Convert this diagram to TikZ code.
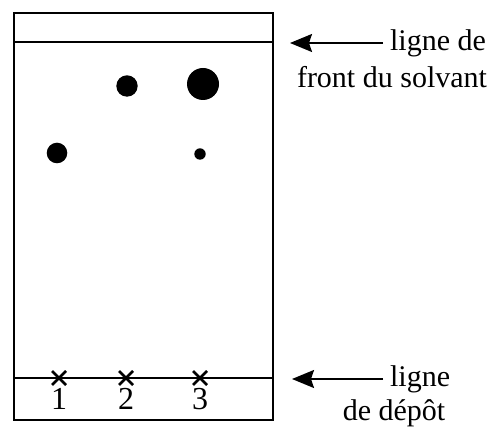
\documentclass[tikz,border=0pt]{standalone}
\usepackage{fontspec}
\setmainfont{Liberation Serif}
\usetikzlibrary{arrows.meta}

\tikzset{
  plate/.style={line width=1pt},
  spot/.style={fill=black},
  lbl/.style={font=\fontsize{15}{17}\selectfont},
  pointer/.style={-{Stealth[length=11pt,width=9pt,inset=1.5pt]}, line width=0.9pt}
}

\begin{document}
\begin{tikzpicture}[x=0.5pt,y=-0.5pt]
\useasboundingbox (0,0) rectangle (492,432);

% Plate
\draw[plate] (14,13) rectangle (273,420);
\draw[plate] (14,42) -- (273,42);   % solvent front
\draw[plate] (14,378) -- (273,378); % deposit line

% Spots
\fill[spot] (57,153) circle (10.3);
\fill[spot] (127,86) circle (10.7);
\fill[spot] (203,84) circle (16);
\fill[spot] (200,154) circle (5.7);

% Deposit marks with their numbers
\foreach \i/\x in {1/59, 2/126, 3/200} {
    \draw[line width=1.3pt] (\x-7,371) -- (\x+7,385) (\x-7,385) -- (\x+7,371);
    \node[lbl, font=\fontsize{16}{18}\selectfont, inner sep=0pt] (num\i) at (\x,399) {\i};
}

% Labels with arrows
\coordinate (fronttip) at (290,43);
\node[lbl, anchor=west] (frontlbl) at (383,43) {ligne de};
\node[lbl] (frontlbl2) at (392,77) {front du solvant};
\draw[pointer] (frontlbl.west) -- (fronttip);

\coordinate (depottip) at (292,379);
\node[lbl, anchor=west] (depotlbl) at (383,379) {ligne};
\node[lbl] (depotlbl2) at (394,413) {de dépôt};
\draw[pointer] (depotlbl.west) -- (depottip);

\end{tikzpicture}
\end{document}
